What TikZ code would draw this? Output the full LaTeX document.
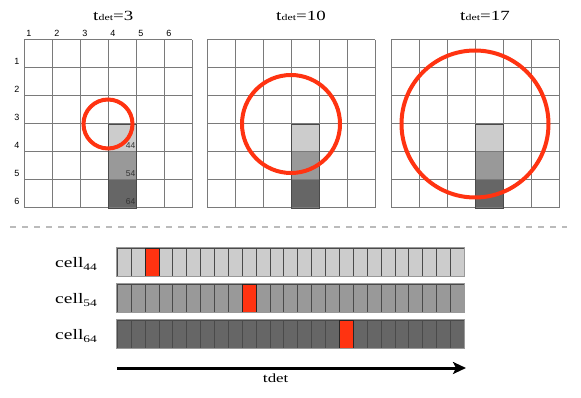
\documentclass[tikz,border=0pt]{standalone}
\usepackage{fontspec}
\setmainfont{Liberation Serif}
\newfontfamily\widefont[FakeStretch=1.35]{Liberation Serif}
\newfontfamily\labfont{Liberation Sans}
\usetikzlibrary{arrows.meta}
\definecolor{hot}{HTML}{FF3311}
\definecolor{lg}{HTML}{CCCCCC}
\definecolor{mg}{HTML}{999999}
\definecolor{dg}{HTML}{666666}
\definecolor{gridc}{HTML}{7A7A7A}
\definecolor{segc}{HTML}{4A4A4A}
\definecolor{dashc}{HTML}{BBBBBB}
\newcommand{\tdet}[1]{\widefont{\fontsize{14.5}{14.5}\selectfont t}{\fontsize{8.8}{8.8}\selectfont det}{\fontsize{14}{14}\selectfont #1}}
\newcommand{\tdetaxis}{\widefont{\fontsize{13}{13}\selectfont t}{\fontsize{12.5}{12.5}\selectfont det}}
\newcommand{\celllab}[1]{\widefont{\fontsize{14.5}{14.5}\selectfont cell}\raisebox{-3pt}{\widefont\fontsize{10}{10}\selectfont #1}}
\begin{document}
\begin{tikzpicture}[x=1pt,y=-1pt,
  gridline/.style={draw=gridc, line width=1pt},
  ring/.style={draw=hot, line width=4pt},
  axislab/.style={font=\labfont\fontsize{9}{9}\selectfont, inner sep=0pt},
  celltag/.style={font=\labfont\fontsize{8.5}{8.5}\selectfont, text=black!80, inner sep=0pt, anchor=base east},
  seg/.style={draw=segc, line width=0.8pt},
  titlelab/.style={anchor=base west, inner sep=0pt}]
\useasboundingbox (0,0) rectangle (581,398);

% three grids
\foreach \gx/\r/\tt [count=\i] in {24/24.5/=3, 207/49/=10, 391/73.5/=17} {
  \fill[lg] (\gx+84,124) rectangle ++(28,28);
  \fill[mg] (\gx+84,152) rectangle ++(28,28);
  \fill[dg] (\gx+84,180) rectangle ++(28,28);
  \foreach \k in {0,...,6} {
    \draw[gridline] (\gx+28*\k,40) -- (\gx+28*\k,208);
    \draw[gridline] (\gx,40+28*\k) -- (\gx+168,40+28*\k);
  }
  \draw[draw=segc, line width=0.8pt] (\gx+84,124) rectangle (\gx+112,208);
  \draw[ring] (\gx+84,124) circle[radius=\r];
  \node[titlelab] (title\i) at (\gx+69,20.5) {\tdet{\tt}};
}

% axis labels of first grid
\foreach \k in {1,...,6} {
  \node[axislab] (col\k) at (24+28*\k-23,33) {\k};
  \node[axislab] (row\k) at (17,40+28*\k-7) {\k};
}
\node[celltag] (t44) at (135.5,148.5) {44};
\node[celltag] (t54) at (135.5,176.5) {54};
\node[celltag] (t64) at (135.5,204.5) {64};

% separator
\coordinate (dl) at (10,227);
\coordinate (dr) at (567,227);
\draw[dashc, line width=1.5pt, dash pattern=on 6pt off 6pt] (dl) -- (dr);

% bars
\foreach \y/\c/\red/\lab in {248/lg/2/44, 284/mg/9/54, 320/dg/16/64} {
  \foreach \s in {0,...,24} {
    \filldraw[seg, fill=\c] (117.3+13.88*\s,\y) rectangle ++(13.88,28);
  }
  \filldraw[seg, draw=black!85, fill=hot] (117.3+13.88*\red,\y) rectangle ++(13.88,28);
  \draw[draw=gray!80, line width=1pt] (116.8,\y-0.5) rectangle (464.3,\y+28.5);
  \node[anchor=base west, inner sep=0pt] (cell\lab) at (55,\y+19.5) {\celllab{\lab}};
}

% time arrow
\coordinate (as) at (117,368);
\coordinate (ae) at (466,368);
\draw[line width=3pt, -{Stealth[length=13pt,width=12pt,inset=3pt]}] (as) -- (ae);
\node[titlelab] (tax) at (262.7,382) {\tdetaxis};
\end{tikzpicture}
\end{document}
